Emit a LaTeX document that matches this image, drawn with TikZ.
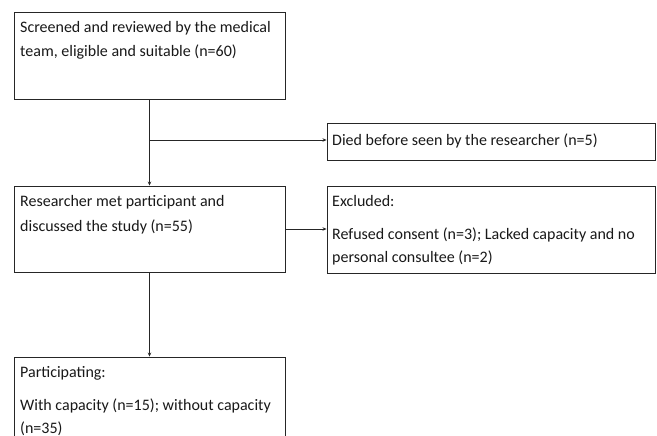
\documentclass[tikz,border=0pt]{standalone}
\usepackage{fontspec}
\setmainfont{Carlito}
\usetikzlibrary{arrows.meta}
\begin{document}
\begin{tikzpicture}[x=1pt,y=-1pt,
  box/.style={draw=black!85,line width=0.9pt,rectangle,inner sep=0pt},
  txt/.style={anchor=base west,inner sep=0pt,font=\fontsize{16}{24}\selectfont,text=black!90},
  arr/.style={draw=black!85,line width=0.8pt,-{Stealth[length=4pt,width=3.5pt]}}]
\clip (0,0) rectangle (657,436);
\fill[white] (0,0) rectangle (657,436);
% boxes
\node[box,minimum width=271pt,minimum height=87pt] (A) at (149.5,55.5) {};
\node[box,minimum width=328pt,minimum height=37pt] (C) at (491,141.5) {};
\node[box,minimum width=271pt,minimum height=86pt] (B) at (149.5,229) {};
\node[box,minimum width=328pt,minimum height=87pt] (E) at (491,229.5) {};
\node[box,minimum width=271pt,minimum height=95pt] (D) at (149.5,404.5) {};
% texts
\node[txt] (a1) at (20,33) {Screened and reviewed by the medical};
\node[txt] (a2) at (20,57) {team, eligible and suitable (n=60)};
\node[txt] (c1) at (332,146) {Died before seen by the researcher (n=5)};
\node[txt] (b1) at (20,207) {Researcher met participant and};
\node[txt] (b2) at (20,231) {discussed the study (n=55)};
\node[txt] (e1) at (332,206) {Excluded:};
\node[txt] (e2) at (332,240) {Refused consent (n=3); Lacked capacity and no};
\node[txt] (e3) at (332,262) {personal consultee (n=2)};
\node[txt] (d1) at (20,377) {Participating:};
\node[txt] (d2) at (20,410) {With capacity (n=15); without capacity};
\node[txt] (d3) at (20,433) {(n=35)};
% connectors
\coordinate (j) at (A.south |- 0,140);
\draw[arr] (A.south) -- (B.north);
\draw[arr] (j) -- (j -| C.west);
\draw[arr] (B.east) -- (E.west |- B.east);
\draw[arr] (B.south) -- (D.north);
\end{tikzpicture}
\end{document}
